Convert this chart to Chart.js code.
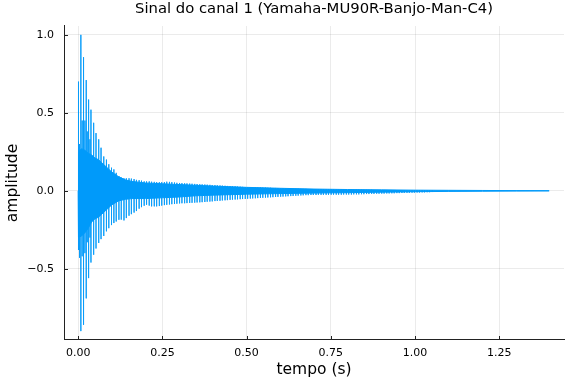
<!DOCTYPE html>
<html>
<head>
<meta charset="utf-8">
<script src="https://cdn.jsdelivr.net/npm/chart.js@4/dist/chart.umd.min.js"></script>
<style>
  html, body { margin: 0; padding: 0; background: #fff; }
  #wrap { width: 576px; height: 384px; }
</style>
</head>
<body>
<div id="wrap"><canvas id="c" width="576" height="384"></canvas></div>
<script>
// ---- Data ----
const titulo = 'Sinal do canal 1 (Yamaha-MU90R-Banjo-Man-C4)';
const rotuloX = 'tempo (s)';
const rotuloY = 'amplitude';
const ticksX = [0, 0.25, 0.5, 0.75, 1.0, 1.25];
const rotulosX = ['0.00', '0.25', '0.50', '0.75', '1.00', '1.25'];
const ticksY = [-0.5, 0.0, 0.5, 1.0];
const rotulosY = ['\u22120.5', '0.0', '0.5', '1.0'];

// dense core of the waveform (envelope of the solid band)
const tempoNucleo = [0.000, 0.001, 0.010, 0.020, 0.030, 0.040, 0.050, 0.060, 0.070, 0.080, 0.090, 0.100, 0.120, 0.140, 0.160, 0.200, 0.250, 0.300, 0.350, 0.400, 0.500, 0.600, 0.700, 0.800, 0.900, 1.000, 1.100, 1.200, 1.300, 1.398];
const nucleoSup = [0.00, 0.25, 0.27, 0.26, 0.24, 0.23, 0.21, 0.20, 0.18, 0.16, 0.14, 0.12, 0.09, 0.07, 0.06, 0.05, 0.045, 0.04, 0.035, 0.03, 0.022, 0.016, 0.011, 0.008, 0.006, 0.004, 0.003, 0.002, 0.001, 0.0005];
const nucleoInf = [0.00, -0.30, -0.29, -0.27, -0.24, -0.20, -0.18, -0.17, -0.15, -0.13, -0.11, -0.09, -0.065, -0.055, -0.05, -0.05, -0.045, -0.04, -0.032, -0.028, -0.022, -0.018, -0.015, -0.012, -0.009, -0.006, -0.004, -0.003, -0.002, -0.001];

// individual excursions (spikes) standing out of the core
const tempoPicos = [0.001, 0.004, 0.008, 0.012, 0.016, 0.020, 0.024, 0.027, 0.031, 0.035, 0.038, 0.046, 0.053, 0.061, 0.068, 0.076, 0.084, 0.091, 0.099, 0.106, 0.113, 0.121, 0.128, 0.136, 0.143, 0.151, 0.158, 0.166, 0.173, 0.181, 0.188, 0.196, 0.203, 0.211, 0.218, 0.226, 0.233, 0.241, 0.248, 0.256, 0.263, 0.271, 0.278, 0.286, 0.293, 0.301, 0.308, 0.316, 0.323, 0.331, 0.338, 0.346, 0.353, 0.361, 0.368, 0.376, 0.383, 0.391, 0.398, 0.406, 0.413, 0.421, 0.428, 0.436, 0.443, 0.451, 0.458, 0.466, 0.473, 0.481, 0.488, 0.496,
  0.503, 0.511, 0.518, 0.526, 0.533, 0.541, 0.548, 0.556, 0.563, 0.571, 0.578, 0.586, 0.593, 0.601, 0.608, 0.616, 0.623, 0.631, 0.638, 0.646, 0.653, 0.661, 0.668, 0.676, 0.683, 0.691, 0.698, 0.706, 0.713, 0.721, 0.728, 0.736, 0.743, 0.751, 0.758, 0.766, 0.773, 0.781, 0.788, 0.796, 0.803, 0.811, 0.818, 0.826, 0.833, 0.841, 0.848, 0.856, 0.863, 0.871, 0.878, 0.886, 0.893, 0.901, 0.908, 0.916, 0.923, 0.931, 0.938, 0.946, 0.953, 0.961, 0.968, 0.976, 0.983, 0.991, 0.998, 1.006, 1.013, 1.021, 1.028, 1.036, 1.043, 1.051];
const picoSup = [0.70, 0.30, 1.00, 0.45, 0.857, 0.45, 0.71, 0.38, 0.585, 0.33, 0.52, 0.436, 0.37, 0.33, 0.276, 0.22, 0.20, 0.17, 0.148, 0.137, 0.115, 0.094, 0.085, 0.08, 0.08, 0.08, 0.078, 0.075, 0.07, 0.068, 0.065, 0.06, 0.06, 0.06, 0.058, 0.057, 0.056, 0.055, 0.055, 0.056, 0.058, 0.057, 0.055, 0.053, 0.051, 0.050, 0.049, 0.048, 0.047, 0.046, 0.045, 0.044, 0.043, 0.042, 0.041, 0.040, 0.039, 0.038, 0.037, 0.036, 0.035, 0.034, 0.033, 0.032, 0.031, 0.030, 0.029, 0.028, 0.027, 0.026, 0.025, 0.024,
  0.023, 0.023, 0.022, 0.022, 0.021, 0.021, 0.020, 0.020, 0.019, 0.019, 0.018, 0.018, 0.017, 0.016, 0.016, 0.015, 0.015, 0.014, 0.014, 0.013, 0.013, 0.012, 0.012, 0.012, 0.011, 0.011, 0.011, 0.010, 0.010, 0.010, 0.010, 0.009, 0.009, 0.009, 0.009, 0.008, 0.008, 0.008, 0.008, 0.008, 0.007, 0.007, 0.007, 0.007, 0.007, 0.006, 0.006, 0.006, 0.006, 0.006, 0.005, 0.005, 0.005, 0.005, 0.005, 0.005, 0.004, 0.004, 0.004, 0.004, 0.004, 0.004, 0.004, 0.003, 0.003, 0.003, 0.003, 0.003, 0.003, 0.003, 0.003, 0.002, 0.002, 0.002];
const picoInf = [-0.38, -0.43, -0.90, -0.42, -0.86, -0.40, -0.69, -0.33, -0.56, -0.30, -0.46, -0.41, -0.37, -0.335, -0.31, -0.29, -0.26, -0.24, -0.22, -0.207, -0.197, -0.186, -0.185, -0.19, -0.175, -0.16, -0.15, -0.14, -0.13, -0.115, -0.105, -0.096, -0.09, -0.095, -0.10, -0.10, -0.10, -0.098, -0.095, -0.092, -0.09, -0.088, -0.086, -0.085, -0.083, -0.081, -0.080, -0.080, -0.079, -0.078, -0.077, -0.076, -0.075, -0.074, -0.073, -0.072, -0.070, -0.069, -0.068, -0.066, -0.065, -0.064, -0.062, -0.061, -0.060, -0.058, -0.057, -0.056, -0.055, -0.054, -0.053, -0.052,
  -0.051, -0.050, -0.049, -0.048, -0.047, -0.046, -0.045, -0.044, -0.043, -0.042, -0.041, -0.040, -0.039, -0.038, -0.037, -0.036, -0.035, -0.034, -0.033, -0.032, -0.031, -0.030, -0.029, -0.028, -0.028, -0.027, -0.027, -0.027, -0.026, -0.026, -0.026, -0.026, -0.026, -0.025, -0.025, -0.025, -0.025, -0.025, -0.024, -0.024, -0.024, -0.024, -0.023, -0.023, -0.023, -0.022, -0.022, -0.021, -0.021, -0.020, -0.020, -0.019, -0.019, -0.018, -0.018, -0.017, -0.017, -0.016, -0.016, -0.015, -0.015, -0.014, -0.014, -0.013, -0.013, -0.012, -0.012, -0.011, -0.011, -0.010, -0.010, -0.009, -0.009, -0.008];

// ---- Build library datasets from the arrays ----
const azul = 'rgb(0,154,250)';
const azulPico = 'rgba(0,154,250,0.7)';
const dadosSup = tempoNucleo.map((t, i) => ({ x: t, y: nucleoSup[i] }));
const dadosInf = tempoNucleo.map((t, i) => ({ x: t, y: nucleoInf[i] }));
const dadosPicos = [];
tempoPicos.forEach((t, i) => {
  dadosPicos.push({ x: t, y: picoSup[i] });
  dadosPicos.push({ x: t, y: picoInf[i] });
  dadosPicos.push({ x: t, y: null });
});

const FONTE = '"DejaVu Sans", sans-serif';
const corEixo = '#222';

const ticksInternos = {
  id: 'ticksInternos',
  afterDatasetsDraw(chart) {
    const { ctx, chartArea, scales } = chart;
    ctx.save();
    ctx.strokeStyle = corEixo;
    ctx.lineWidth = 1;
    ctx.beginPath();
    ticksX.forEach(v => {
      const px = Math.round(scales.x.getPixelForValue(v)) + 0.5;
      ctx.moveTo(px, chartArea.bottom);
      ctx.lineTo(px, chartArea.bottom - 4);
    });
    ticksY.forEach(v => {
      const py = Math.round(scales.y.getPixelForValue(v)) + 0.5;
      ctx.moveTo(chartArea.left, py);
      ctx.lineTo(chartArea.left + 4, py);
    });
    ctx.stroke();
    ctx.restore();
  }
};

new Chart(document.getElementById('c'), {
  type: 'line',
  data: {
    datasets: [
      { label: 'núcleo sup', data: dadosSup, borderColor: azul, backgroundColor: azul, borderWidth: 1, fill: '+1', pointRadius: 0, tension: 0 },
      { label: 'núcleo inf', data: dadosInf, borderColor: azul, backgroundColor: azul, borderWidth: 1, fill: false, pointRadius: 0, tension: 0 },
      { label: 'picos', data: dadosPicos, borderColor: azulPico, borderWidth: 1, fill: false, pointRadius: 0, spanGaps: false, tension: 0 }
    ]
  },
  options: {
    responsive: false,
    animation: false,
    devicePixelRatio: 1,
    parsing: true,
    layout: { padding: { left: 0, right: 12, top: 0, bottom: 0 } },
    plugins: {
      legend: { display: false },
      tooltip: { enabled: false },
      title: {
        display: true,
        text: titulo,
        fullSize: false,
        color: '#000',
        font: { family: FONTE, size: 14.8, weight: 'normal', lineHeight: 1.2 },
        padding: { top: 0, bottom: 8.2 }
      }
    },
    scales: {
      x: {
        type: 'linear',
        min: -0.042,
        max: 1.442,
        afterFit(s) { s.height = 44; },
        afterBuildTicks(s) { s.ticks = ticksX.map(v => ({ value: v })); },
        ticks: {
          color: '#000',
          font: { family: FONTE, size: 11 },
          padding: 7,
          maxRotation: 0,
          autoSkip: false,
          callback: (v) => rotulosX[ticksX.indexOf(v)]
        },
        grid: { color: 'rgba(0,0,0,0.08)', lineWidth: 1, drawTicks: false },
        border: { display: true, color: corEixo, width: 1 },
        title: { display: true, text: rotuloX, color: '#000', font: { family: FONTE, size: 15.5 }, padding: { top: 0, bottom: 5 } }
      },
      y: {
        type: 'linear',
        min: -0.957,
        max: 1.057,
        afterFit(s) { s.width = 64; },
        afterBuildTicks(s) { s.ticks = ticksY.map(v => ({ value: v })); },
        ticks: {
          color: '#000',
          font: { family: FONTE, size: 11 },
          padding: 10,
          autoSkip: false,
          callback: (v) => rotulosY[ticksY.indexOf(v)]
        },
        grid: { color: 'rgba(0,0,0,0.08)', lineWidth: 1, drawTicks: false },
        border: { display: true, color: corEixo, width: 1 },
        title: { display: true, text: rotuloY, color: '#000', font: { family: FONTE, size: 15.5 }, padding: { top: 4, bottom: 0 } }
      }
    }
  },
  plugins: [ticksInternos]
});
</script>
</body>
</html>
